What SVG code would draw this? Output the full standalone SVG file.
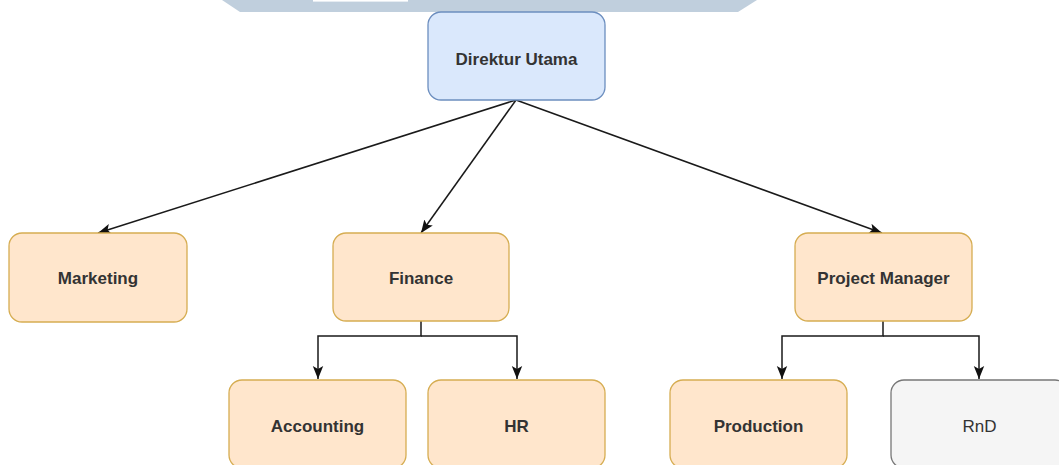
<svg xmlns="http://www.w3.org/2000/svg" width="1059" height="465" viewBox="0 0 1059 465">
<style>
.box{stroke-width:1.3}
.blue{fill:#dae8fc;stroke:#6c8ebf}
.orange{fill:#ffe6cc;stroke:#d6ad52}
.gray{fill:#f5f5f5;stroke:#777777}
.lbl{font-family:"Liberation Sans",Arial,sans-serif;font-size:17px;font-weight:bold;fill:#333333;text-anchor:middle}
.edge{fill:none;stroke:#1a1a1a;stroke-width:1.5}
</style>
<defs>
<marker id="arr" markerUnits="userSpaceOnUse" markerWidth="14" markerHeight="14" viewBox="0 0 14 14" refX="13" refY="7" orient="auto">
<path d="M0,1.8 L13,7 L0,12.2 L3,7 Z" fill="#111111"/>
</marker>
</defs>
<rect width="1059" height="465" fill="#ffffff"/>
<polygon points="222,0 757,0 738,12 240,12" fill="#c0cfdd"/>
<rect x="313" y="0" width="95" height="1.6" fill="#ffffff"/>
<g id="connectors">
<line class="edge" x1="516" y1="100" x2="98" y2="233" marker-end="url(#arr)"/>
<line class="edge" x1="516" y1="100" x2="421" y2="233" marker-end="url(#arr)"/>
<line class="edge" x1="516" y1="100" x2="882" y2="233" marker-end="url(#arr)"/>
<path class="edge" d="M421,321 V336 H318 V379" marker-end="url(#arr)"/>
<path class="edge" d="M421,336 H517 V379" marker-end="url(#arr)"/>
<path class="edge" d="M883,321 V336 H782 V379" marker-end="url(#arr)"/>
<path class="edge" d="M883,336 H979 V379" marker-end="url(#arr)"/>
</g>
<g id="direktur"><rect class="box blue" x="428" y="12" width="177" height="88" rx="13"/><text class="lbl" x="516.5" y="65">Direktur Utama</text></g>
<g id="marketing"><rect class="box orange" x="9" y="233" width="178" height="89" rx="13"/><text class="lbl" x="98" y="284">Marketing</text></g>
<g id="finance"><rect class="box orange" x="333" y="233" width="176" height="88" rx="13"/><text class="lbl" x="421" y="284">Finance</text></g>
<g id="pm"><rect class="box orange" x="795" y="233" width="177" height="88" rx="13"/><text class="lbl" x="883.5" y="284">Project Manager</text></g>
<g id="accounting"><rect class="box orange" x="229" y="380" width="177" height="88" rx="13"/><text class="lbl" x="317.5" y="432">Accounting</text></g>
<g id="hr"><rect class="box orange" x="428" y="380" width="177" height="88" rx="13"/><text class="lbl" x="516.5" y="432">HR</text></g>
<g id="production"><rect class="box orange" x="670" y="380" width="177" height="88" rx="13"/><text class="lbl" x="758.5" y="432">Production</text></g>
<g id="rnd"><rect class="box gray" x="891" y="380" width="177" height="88" rx="13"/><text class="lbl" x="979.5" y="432" style="font-weight:normal">RnD</text></g>
</svg>
